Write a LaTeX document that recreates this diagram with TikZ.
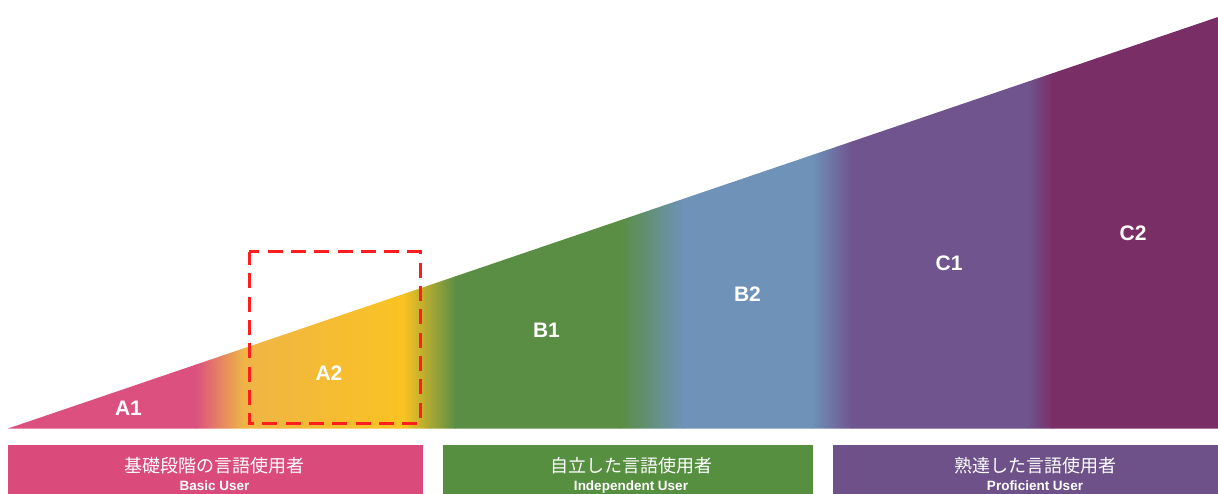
\documentclass[tikz,border=0pt]{standalone}
\usepackage{fontspec}
\setmainfont{Liberation Sans}
\newfontfamily\jpfont{Noto Sans CJK JP}

\definecolor{lvpink}{HTML}{DC5080}
\definecolor{lvyellowA}{HTML}{EFB446}
\definecolor{lvyellowB}{HTML}{FAC322}
\definecolor{lvgreen}{HTML}{5A8E44}
\definecolor{lvblue}{HTML}{6E92B8}
\definecolor{lvpurple}{HTML}{6F548E}
\definecolor{lvmaroon}{HTML}{7A2E66}
\definecolor{boxpink}{HTML}{DA4B7B}
\definecolor{boxgreen}{HTML}{568F40}
\definecolor{boxpurple}{HTML}{6E5189}
\definecolor{focusred}{HTML}{FF1E1E}

\begin{document}
\begin{tikzpicture}[x=1pt,y=-1pt]
			\tikzset{level/.style = {text=white, inner sep=0pt,
					font=\bfseries\fontsize{21}{21}\selectfont}}
			\tikzset{userbox/.style = {shape=rectangle, minimum height=60pt,
					inner sep=0pt}}
			\tikzset{jplabel/.style = {text=white, inner sep=0pt, anchor=base,
					font=\jpfont\fontsize{18}{18}\selectfont}}
			\tikzset{enlabel/.style = {text=white, inner sep=0pt, anchor=base,
					font=\bfseries\fontsize{13.5}{13.5}\selectfont}}
			\tikzset{focus/.style = {draw=focusred, line width=3pt,
					dash pattern=on 15pt off 8.3pt, dash phase=2pt}}
			
			\useasboundingbox (0,0) rectangle (1218,494);
			
			% wedge
			\begin{scope}
				\clip (8,428.5) -- (1218,17) -- (1218,428.5) -- cycle;
				\foreach \xa/\xb/\ca/\cb in {8/195/lvpink/lvpink,
					195/243/lvpink/lvyellowA, 243/403/lvyellowA/lvyellowB,
					403/455/lvyellowB/lvgreen, 455/620/lvgreen/lvgreen,
					620/683/lvgreen/lvblue, 683/812/lvblue/lvblue,
					812/852/lvblue/lvpurple, 852/1028/lvpurple/lvpurple,
					1028/1052/lvpurple/lvmaroon, 1052/1218/lvmaroon/lvmaroon}
				\shade[left color=\ca, right color=\cb] (\xa,0) rectangle (\xb+0.6,430);
			\end{scope}
			
			% levels
			\node[level] (a1) at (128.5,408.5) {A1};
			\node[level] (a2) at (329,373) {A2};
			\node[level] (b1) at (546.5,330.5) {B1};
			\node[level] (b2) at (747.5,294.5) {B2};
			\node[level] (c1) at (949,263) {C1};
			\node[level] (c2) at (1133,233.5) {C2};
			
			%\draw [focus] (248,252) -- (420,252);
			\draw[focus] (249,252) rectangle (420,423);
			
			% user groups
			\node[userbox, fill=boxpink, minimum width=415pt] (basic) at (215.5,475) {};
			\node[userbox, fill=boxgreen, minimum width=370pt] (indep) at (628,475) {};
			\node[userbox, fill=boxpurple, minimum width=404pt] (prof) at (1035,475) {};
			
			\node[jplabel] (basicjp) at (214.5,472) {基礎段階の言語使用者};
			\node[enlabel] (basicen) at (214.5,490) {Basic User};
			\node[jplabel] (indepjp) at (631,472) {自立した言語使用者};
			\node[enlabel] (indepen) at (631,490) {Independent User};
			\node[jplabel] (profjp) at (1035,472) {熟達した言語使用者};
			\node[enlabel] (profen) at (1035,490) {Proficient User};
			
\end{tikzpicture}
\end{document}
